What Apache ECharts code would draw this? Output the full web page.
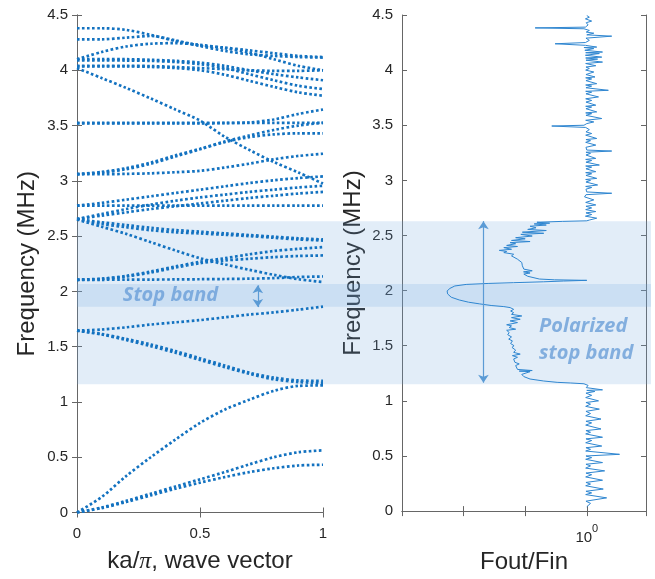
<!DOCTYPE html>
<html>
<head>
<meta charset="utf-8">
<script src="https://cdn.jsdelivr.net/npm/echarts@6/dist/echarts.min.js"></script>
<style>
  html, body { margin: 0; padding: 0; background: #fff; }
  #main { width: 655px; height: 579px; }
</style>
</head>
<body>
<div id="main"></div>
<script>
// wave vector samples (ka/pi) for the dispersion bands
const K = [0, 0.1, 0.2, 0.3, 0.4, 0.5, 0.6, 0.7, 0.8, 0.9, 1];

// band frequencies (MHz) at each K
const bandL1 = [0, 0.14, 0.33, 0.5, 0.66, 0.81, 0.93, 1.02, 1.1, 1.145, 1.15];
const bandL2 = [0, 0.045, 0.105, 0.17, 0.235, 0.3, 0.365, 0.435, 0.5, 0.545, 0.562];
const bandL3 = [0, 0.04, 0.095, 0.155, 0.215, 0.27, 0.32, 0.365, 0.4, 0.425, 0.432];
const bandU1 = [1.645, 1.655, 1.675, 1.7, 1.72, 1.74, 1.765, 1.79, 1.81, 1.835, 1.862];
const bandD1 = [1.645, 1.615, 1.57, 1.52, 1.46, 1.395, 1.33, 1.265, 1.22, 1.195, 1.19];
const bandD2 = [1.645, 1.61, 1.56, 1.505, 1.445, 1.38, 1.315, 1.255, 1.205, 1.18, 1.172];
const bandF1 = [2.105, 2.105, 2.106, 2.107, 2.108, 2.11, 2.112, 2.115, 2.12, 2.13, 2.135];
const bandR1 = [2.105, 2.115, 2.14, 2.18, 2.225, 2.268, 2.3, 2.335, 2.365, 2.385, 2.4];
const bandR2 = [2.105, 2.112, 2.135, 2.17, 2.215, 2.255, 2.28, 2.295, 2.31, 2.32, 2.325];
const bandD3 = [2.65, 2.585, 2.52, 2.445, 2.37, 2.3, 2.245, 2.195, 2.15, 2.11, 2.085];
const bandD4 = [2.655, 2.61, 2.58, 2.553, 2.535, 2.524, 2.512, 2.5, 2.485, 2.47, 2.46];
const bandD5 = [2.655, 2.625, 2.6, 2.575, 2.555, 2.54, 2.525, 2.51, 2.495, 2.48, 2.47];
const bandC1 = [2.655, 2.685, 2.715, 2.745, 2.77, 2.795, 2.82, 2.845, 2.865, 2.885, 2.9];
const bandC2 = [2.655, 2.7, 2.745, 2.785, 2.82, 2.85, 2.875, 2.9, 2.92, 2.94, 2.955];
const bandB1 = [2.775, 2.775, 2.775, 2.775, 2.775, 2.775, 2.775, 2.775, 2.775, 2.775, 2.775];
const bandB2 = [2.775, 2.8, 2.83, 2.86, 2.89, 2.92, 2.95, 2.98, 3.005, 3.025, 3.04];
const bandM5 = [3.06, 3.06, 3.063, 3.068, 3.078, 3.09, 3.12, 3.155, 3.195, 3.225, 3.245];
const bandM4a = [3.06, 3.08, 3.115, 3.165, 3.23, 3.29, 3.355, 3.41, 3.46, 3.5, 3.525];
const bandM4b = [3.06, 3.075, 3.105, 3.155, 3.22, 3.285, 3.35, 3.395, 3.42, 3.43, 3.43];
const bandM1 = [3.525, 3.525, 3.525, 3.525, 3.525, 3.525, 3.525, 3.525, 3.525, 3.525, 3.525];
const bandM2 = [3.52, 3.52, 3.52, 3.52, 3.52, 3.52, 3.522, 3.528, 3.555, 3.605, 3.645];
const bandM3 = [4.02, 3.93, 3.84, 3.745, 3.645, 3.545, 3.4, 3.28, 3.17, 3.075, 2.975];
const bandT1 = [4.38, 4.38, 4.365, 4.32, 4.265, 4.225, 4.205, 4.18, 4.155, 4.13, 4.12];
const bandT2 = [4.28, 4.28, 4.295, 4.31, 4.27, 4.22, 4.175, 4.145, 4.13, 4.12, 4.115];
const bandT3 = [4.1, 4.165, 4.215, 4.24, 4.245, 4.23, 4.2, 4.16, 4.1, 4.04, 4.0];
const bandT4 = [4.1, 4.1, 4.1, 4.095, 4.085, 4.07, 4.04, 4.0, 3.965, 3.935, 3.91];
const bandT5 = [4.09, 4.09, 4.088, 4.085, 4.075, 4.055, 4.02, 3.965, 3.91, 3.86, 3.83];
const bandT6 = [4.04, 4.04, 4.04, 4.038, 4.03, 4.02, 4.01, 4.0, 3.995, 3.995, 4.0];
const bandT7 = [4.035, 4.035, 4.035, 4.03, 4.02, 4.0, 3.96, 3.905, 3.85, 3.8, 3.77];

const bands = [bandL1, bandL2, bandL3, bandU1, bandD1, bandD2, bandF1, bandR1, bandR2,
    bandD3, bandD4, bandD5, bandC1, bandC2, bandB1, bandB2, bandM5, bandM4a, bandM4b,
    bandM1, bandM2, bandM3, bandT1, bandT2, bandT3, bandT4, bandT5, bandT6, bandT7];

// transmission, [frequency MHz, Fout/Fin]
const passLow = [[0.04, 1.0], [0.07, 1.15], [0.09, 0.97], [0.12, 2.1], [0.15, 0.96], [0.165, 1.2],
    [0.18, 0.97], [0.2, 1.85], [0.23, 0.96], [0.245, 1.15], [0.26, 0.97], [0.28, 1.8], [0.31, 0.96],
    [0.33, 1.2], [0.345, 0.97], [0.365, 1.95], [0.39, 0.96], [0.41, 1.15], [0.425, 0.97], [0.44, 1.8],
    [0.47, 0.96], [0.485, 1.2], [0.5, 0.97], [0.515, 3.4], [0.545, 0.96], [0.56, 1.15], [0.575, 0.97],
    [0.59, 1.75], [0.62, 0.96], [0.64, 1.2], [0.655, 0.97], [0.67, 1.8], [0.7, 0.96], [0.715, 1.15],
    [0.73, 0.97], [0.745, 1.7], [0.78, 0.96], [0.8, 1.2], [0.815, 0.97], [0.835, 1.7], [0.865, 0.96],
    [0.885, 1.15], [0.905, 0.97], [0.925, 1.6], [0.95, 0.96], [0.97, 1.15], [0.985, 0.97], [1.0, 1.55],
    [1.03, 0.96], [1.05, 1.2], [1.07, 0.97], [1.085, 1.35], [1.095, 1.0], [1.1, 1.8], [1.12, 0.98],
    [1.14, 1.05]];
const stopLow = [[1.155, 0.9], [1.162, 0.55], [1.168, 0.33], [1.18, 0.2], [1.198, 0.12], [1.22, 0.095],
    [1.24, 0.088], [1.258, 0.083], [1.265, 0.12], [1.27, 0.08], [1.275, 0.13], [1.285, 0.075],
    [1.3, 0.078], [1.32, 0.07], [1.335, 0.08], [1.35, 0.068], [1.365, 0.072], [1.38, 0.065],
    [1.395, 0.075], [1.41, 0.062], [1.424, 0.083], [1.44, 0.065], [1.46, 0.07], [1.485, 0.061],
    [1.5, 0.066], [1.52, 0.058], [1.544, 0.062], [1.56, 0.054], [1.58, 0.06], [1.6, 0.052],
    [1.62, 0.055], [1.64, 0.05], [1.65, 0.07], [1.665, 0.055], [1.68, 0.06], [1.69, 0.05],
    [1.71, 0.075], [1.725, 0.057], [1.74, 0.083], [1.755, 0.06], [1.77, 0.088], [1.785, 0.06],
    [1.8, 0.065], [1.815, 0.058], [1.83, 0.065], [1.846, 0.057]];
const stopDip = [[1.855, 0.045], [1.865, 0.028], [1.88, 0.018], [1.895, 0.012], [1.915, 0.0085],
    [1.94, 0.0063], [1.97, 0.0055], [1.997, 0.0054], [2.02, 0.006], [2.042, 0.0072], [2.056, 0.011],
    [2.065, 0.025], [2.072, 0.065], [2.08, 0.2], [2.087, 0.42], [2.093, 1.0], [2.098, 0.3],
    [2.105, 0.17], [2.117, 0.16]];
const stopHigh = [[2.13, 0.11], [2.15, 0.095], [2.16, 0.12], [2.17, 0.094], [2.18, 0.13], [2.195, 0.095],
    [2.21, 0.1], [2.225, 0.09], [2.24, 0.095], [2.255, 0.088], [2.27, 0.09], [2.285, 0.075], [2.3, 0.08],
    [2.315, 0.06], [2.33, 0.065], [2.345, 0.045], [2.355, 0.05], [2.365, 0.038], [2.375, 0.06],
    [2.39, 0.045], [2.4, 0.075], [2.41, 0.05], [2.425, 0.07], [2.435, 0.057], [2.445, 0.12],
    [2.455, 0.06], [2.47, 0.1], [2.48, 0.07], [2.495, 0.13], [2.51, 0.085], [2.52, 0.2], [2.53, 0.09],
    [2.545, 0.22], [2.555, 0.11], [2.57, 0.15], [2.584, 0.12], [2.595, 0.22], [2.605, 0.14],
    [2.612, 0.25], [2.62, 0.155], [2.628, 0.4], [2.633, 1.0]];
const passHigh = [[2.64, 1.1], [2.657, 1.45], [2.675, 0.95], [2.69, 1.2], [2.705, 0.97], [2.717, 1.4],
    [2.735, 0.96], [2.75, 1.2], [2.765, 0.97], [2.777, 1.4], [2.8, 0.96], [2.823, 1.3], [2.85, 0.92],
    [2.87, 0.97], [2.883, 2.54], [2.895, 1.0], [2.92, 0.97], [2.935, 1.2], [2.945, 0.96], [2.958, 1.5],
    [2.985, 0.97], [3.0, 1.15], [3.008, 0.96], [3.018, 1.45], [3.045, 0.97], [3.06, 1.2], [3.07, 0.96],
    [3.079, 1.4], [3.105, 0.97], [3.12, 1.2], [3.13, 0.96], [3.139, 1.6], [3.165, 0.97], [3.18, 1.2],
    [3.19, 0.96], [3.199, 1.4], [3.23, 0.97], [3.245, 1.15], [3.255, 0.97], [3.266, 2.54], [3.275, 1.0],
    [3.3, 0.97], [3.32, 1.4], [3.345, 0.96], [3.36, 1.15], [3.37, 0.97], [3.38, 1.45], [3.41, 0.96],
    [3.425, 1.2], [3.44, 0.97], [3.46, 1.1], [3.48, 0.96], [3.493, 0.27], [3.5, 0.9], [3.515, 1.0],
    [3.53, 1.3], [3.545, 0.96], [3.561, 1.75], [3.59, 0.97], [3.605, 1.2], [3.612, 0.96], [3.621, 1.45],
    [3.65, 0.97], [3.665, 1.2], [3.672, 0.96], [3.682, 1.4], [3.71, 0.97], [3.725, 1.2], [3.74, 0.96],
    [3.757, 1.55], [3.785, 0.97], [3.8, 1.2], [3.808, 0.96], [3.817, 2.24], [3.84, 0.97], [3.855, 1.2],
    [3.865, 0.96], [3.877, 1.45], [3.905, 0.97], [3.92, 1.2], [3.93, 0.96], [3.938, 1.36], [3.96, 0.97],
    [3.983, 1.3], [4.0, 0.96], [4.015, 1.1], [4.028, 0.97], [4.04, 1.4], [4.06, 0.96], [4.073, 1.8],
    [4.09, 0.97], [4.1, 1.5], [4.11, 0.96], [4.118, 1.75], [4.135, 0.95], [4.15, 1.6], [4.158, 0.96],
    [4.164, 1.8], [4.18, 0.93], [4.195, 1.3], [4.205, 0.9], [4.209, 1.45], [4.225, 0.95], [4.239, 0.306],
    [4.25, 0.95], [4.27, 1.1], [4.29, 0.97], [4.308, 2.54], [4.32, 1.0], [4.335, 1.3], [4.345, 0.98],
    [4.36, 1.1], [4.375, 0.9], [4.383, 0.145], [4.39, 0.95], [4.41, 1.05], [4.43, 0.98], [4.445, 1.2],
    [4.465, 0.95], [4.48, 1.1], [4.495, 1.0]];

// shaded frequency ranges (MHz)
const polarBand = [1.16, 2.635];
const stopBand = [1.86, 2.066];

const textColor = '#262626';
const lineColor = '#666666';
const annoColor = '#6a9fd8';
const font = 'Liberation Sans';

const transmission = [].concat(passLow, stopLow, stopDip, stopHigh, passHigh).map(p => [p[1], p[0]]);

const chart = echarts.init(document.getElementById('main'));

function frame (extra) {
    return Object.assign({
        axisLine: { show: true, lineStyle: { color: lineColor, width: 1 } },
        axisTick: { show: true, inside: true, length: 5, lineStyle: { color: lineColor } },
        splitLine: { show: false },
        axisLabel: { color: textColor, fontSize: 15, fontFamily: font }
    }, extra);
}

const isOne = v => Math.abs(v - 1) < 1e-6;

const bandSeries = bands.map(b => ({
    type: 'line',
    xAxisIndex: 0,
    yAxisIndex: 0,
    data: K.map((k, i) => [k, b[i]]),
    symbol: 'none',
    smooth: 0.3,
    silent: true,
    lineStyle: { color: '#1372c0', width: 2.7, type: [2.6, 2.4], cap: 'butt' }
}));

const annoText = {
    fontFamily: 'Open Sans', fontStyle: 'italic', fontWeight: 'bold',
    fontSize: 20, color: annoColor
};

const option = {
    animation: false,
    grid: [
        { left: 77, top: 15, width: 246, height: 497.5 },
        { left: 402, top: 15, width: 244, height: 497.5 },
        { left: 77, top: 15, width: 574, height: 497.5 }
    ],
    xAxis: [
        frame({
            gridIndex: 0, type: 'value', min: 0, max: 1, interval: 0.5,
            axisLabel: { color: textColor, fontSize: 15, fontFamily: font, margin: 14 },
            name: '{t|ka/}{p|π}{t|, wave vector}',
            nameLocation: 'middle',
            nameGap: 37,
            nameTextStyle: {
                rich: {
                    t: { fontSize: 24, fontFamily: font, color: textColor },
                    p: { fontSize: 24, fontFamily: 'Liberation Serif', fontStyle: 'italic', color: textColor }
                }
            }
        }),
        frame({ gridIndex: 0, type: 'value', position: 'top', min: 0, max: 1, interval: 0.5, axisLabel: { show: false } }),
        frame({
            gridIndex: 1, type: 'log', logBase: 10, min: 0.001, max: 9.15,
            axisLabel: {
                margin: 12,
                formatter: v => isOne(v) ? '{b|10}{s|0}' : '',
                rich: {
                    b: { fontSize: 15, fontFamily: font, color: textColor, lineHeight: 22, verticalAlign: 'bottom' },
                    s: { fontSize: 11, fontFamily: font, color: textColor, verticalAlign: 'top' }
                }
            },
            name: 'Fout/Fin',
            nameLocation: 'middle',
            nameGap: 37,
            nameTextStyle: { fontSize: 24, fontFamily: font, color: textColor }
        }),
        frame({ gridIndex: 1, type: 'log', logBase: 10, position: 'top', min: 0.001, max: 9.15, axisLabel: { show: false } }),
        { gridIndex: 2, type: 'value', min: 0, max: 1, show: false }
    ],
    yAxis: [
        frame({
            gridIndex: 0, type: 'value', min: 0, max: 4.5, interval: 0.5,
            axisLabel: { color: textColor, fontSize: 15, fontFamily: font, margin: 9 },
            name: 'Frequency (MHz)', nameLocation: 'middle', nameGap: 38,
            nameTextStyle: { fontSize: 24, fontFamily: font, color: textColor }
        }),
        frame({ gridIndex: 0, type: 'value', position: 'right', min: 0, max: 4.5, interval: 0.5, axisLabel: { show: false } }),
        frame({
            gridIndex: 1, type: 'value', min: 0, max: 4.5, interval: 0.5,
            axisLabel: { color: textColor, fontSize: 15, fontFamily: font, margin: 9 },
            name: 'Frequency (MHz)', nameLocation: 'middle', nameGap: 37,
            nameTextStyle: { fontSize: 24, fontFamily: font, color: textColor }
        }),
        frame({ gridIndex: 1, type: 'value', position: 'right', min: 0, max: 4.5, interval: 0.5, axisLabel: { show: false } }),
        { gridIndex: 2, type: 'value', min: 0, max: 4.5, show: false }
    ],
    series: [
        // shaded bands across both panels
        {
            type: 'scatter',
            xAxisIndex: 4,
            yAxisIndex: 4,
            data: [],
            markArea: {
                silent: true,
                itemStyle: { color: 'rgba(111,163,220,0.2)' },
                data: [
                    [{ yAxis: polarBand[0] }, { yAxis: polarBand[1] }],
                    [{ yAxis: stopBand[0] }, { yAxis: stopBand[1] }]
                ]
            }
        },
        ...bandSeries,
        {
            type: 'line',
            xAxisIndex: 2,
            yAxisIndex: 2,
            data: transmission,
            symbol: 'none',
            silent: true,
            lineStyle: { color: '#2f86d0', width: 1 }
        },
        {
            type: 'scatter',
            xAxisIndex: 0,
            yAxisIndex: 0,
            data: [[0.38, 1.962]],
            symbolSize: 1,
            itemStyle: { color: 'rgba(0,0,0,0)' },
            label: Object.assign({ show: true, position: 'inside', formatter: 'Stop band' }, annoText),
            markLine: {
                silent: true,
                symbol: ['arrow', 'arrow'],
                symbolSize: [8, 8],
                label: { show: false },
                lineStyle: { color: '#5b9bd5', width: 1.2, type: 'solid' },
                data: [[{ coord: [0.735, 1.858] }, { coord: [0.735, 2.055] }]]
            }
        },
        {
            type: 'scatter',
            xAxisIndex: 2,
            yAxisIndex: 2,
            data: [[0.165, 1.555]],
            symbolSize: 1,
            itemStyle: { color: 'rgba(0,0,0,0)' },
            label: Object.assign({
                show: true, position: 'right', distance: 0, align: 'left',
                formatter: 'Polarized\nstop band', lineHeight: 27
            }, annoText),
            markLine: {
                silent: true,
                symbol: ['arrow', 'arrow'],
                symbolSize: [8, 8],
                label: { show: false },
                lineStyle: { color: '#5b9bd5', width: 1.2, type: 'solid' },
                data: [[{ coord: [0.021, 1.165] }, { coord: [0.021, 2.63] }]]
            }
        }
    ]
};

chart.setOption(option);
</script>
</body>
</html>
